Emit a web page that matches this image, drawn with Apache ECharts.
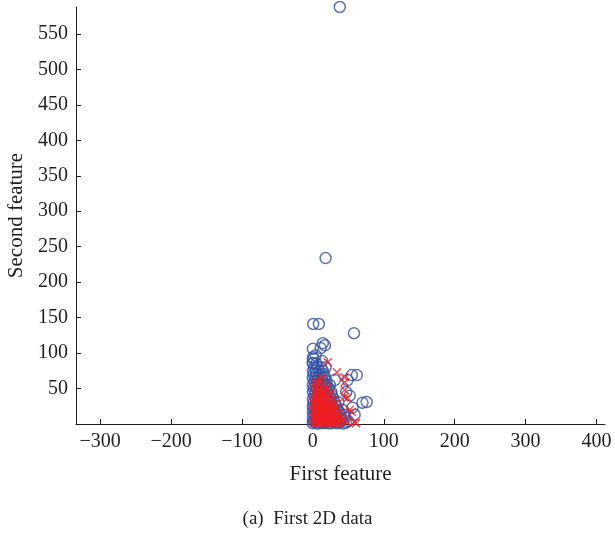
<!DOCTYPE html>
<html>
<head>
<meta charset="utf-8">
<script src="https://cdn.jsdelivr.net/npm/echarts@6/dist/echarts.min.js"></script>
<style>html,body{margin:0;padding:0;background:#fff}#c{width:615px;height:533px}</style>
</head>
<body>
<div id="c"></div>
<script>
// Class 1: blue circles
const blueData = [
  [38,588],[18,234],[0.5,141],[8.5,141],[58,128],[14,114],[17,111],[11,107],[0,106],[0,94],[13,89],[0,86],
  [55,69],[62,69],[49,62],[76,31],[70,30],[24,55],[31,62],[56,23],[59,13],[47,45],[52,40],[4,97],[1,92],
  [0,1],[3,2],[7,0.5],[10,1.5],[14,1],[18,2],[22,0.8],[26,1.2],[30,2],[34,1],[38,1.5],[43,0.5],[47,2],
  [1,4],[5,4.5],[9,3.5],[12,4],[16,5],[20,4],[24,3.8],[28,4.6],[33,4],[37,3.6],[41,5],[50,4],
  [0,8],[4,7.5],[8,8.5],[11,8],[15,7],[19,8.4],[23,8],[27,7.6],[31,8.8],[35,8],[40,7.4],[46,9],
  [2,12],[6,11.5],[10,12.6],[13,12],[17,11],[21,12.4],[25,12],[29,13],[34,11.6],[39,12.5],[44,13],
  [0,16],[4,16.5],[7,15.5],[11,16],[15,17],[19,15.8],[23,16.4],[28,16],[32,15.4],[37,17],
  [1,20],[5,20.6],[9,19.5],[13,20],[17,21],[21,19.6],[26,20.4],[30,21],[35,19.8],[41,20.5],
  [0,25],[3,24.4],[7,25.6],[11,25],[15,24],[19,25.5],[24,26],[28,24.6],[33,25.2],
  [1,30],[5,29.4],[9,30.6],[13,31],[17,29.6],[22,30.2],[26,31],[31,29.8],[36,30.5],
  [0,35],[4,35.6],[8,34.4],[12,35],[16,36],[20,34.6],[25,35.2],[29,36],
  [2,40],[6,39.4],[10,40.6],[14,40],[18,41],[23,39.6],[27,40.4],
  [0,45],[4,45.6],[8,44.4],[12,45],[16,46],[21,44.6],[26,45.4],
  [1,50],[5,50.6],[9,49.4],[13,50],[18,51],[22,49.6],
  [0,55],[4,55.6],[8,54.4],[12,55],[16,56],[20,54.6],
  [2,60],[6,60.6],[10,59.4],[14,60],[19,61],
  [0,65],[4,65.6],[8,64.4],[13,65],[17,66],
  [1,70],[5,70.6],[10,69.4],[15,70.5],
  [0,75],[4,75.6],[9,74.4],[14,75],
  [2,80],[7,80.6],[12,79.4],[18,80],
  [0,86],[5,85.4]
];
// Class 2: red crosses
const redData = [
  [21,87],[34,73],[45,66],[45,59],[13,65],[20,52],[3,58],[13,45],[45,48],[45,38],[49,37],[52,20],[55,17],[42,6],[48,3],[59,3],[61,1],
  [2,1],[6,1.5],[10,0.8],[14,1.2],[18,1.8],[22,1],[26,0.6],[30,1.4],[34,1],[38,1.6],
  [4,4],[8,4.4],[12,3.6],[16,4.2],[20,4.8],[24,3.8],[28,4.2],[32,4.6],[36,3.8],[41,4.4],
  [3,7],[7,7.4],[11,6.6],[15,7.2],[19,7.8],[23,6.8],[27,7.2],[31,7.6],[35,6.8],
  [2,10],[6,10.4],[10,9.6],[14,10.2],[18,10.8],[22,9.8],[26,10.2],[30,10.6],[34,9.8],[39,10.4],
  [4,13],[8,13.4],[12,12.6],[16,13.2],[20,13.8],[24,12.8],[28,13.2],[33,13.6],
  [3,16],[7,16.4],[11,15.6],[15,16.2],[19,16.8],[23,15.8],[27,16.2],[31,16.6],[37,15.8],
  [2,19],[6,19.4],[10,18.6],[14,19.2],[18,19.8],[22,18.8],[26,19.2],[30,19.6],
  [4,22],[8,22.4],[12,21.6],[16,22.2],[20,22.8],[24,21.8],[29,22.2],[34,22.6],
  [3,25],[7,25.4],[11,24.6],[15,25.2],[19,25.8],[23,24.8],[27,25.2],
  [2,28],[6,28.4],[10,27.6],[14,28.2],[18,28.8],[22,27.8],[26,28.2],[32,28.6],
  [4,31],[8,31.4],[12,30.6],[16,31.2],[20,31.8],[25,30.8],
  [3,34],[7,34.4],[11,33.6],[15,34.2],[19,34.8],[23,33.8],[28,34.2],
  [5,38],[9,38.4],[13,37.6],[17,38.2],[22,38.8],
  [4,42],[8,42.4],[12,41.6],[18,42.2],[25,42.8],
  [6,46],[10,46.4],[15,45.6],
  [5,50],[12,50.4],[20,49.6],
  [8,55],[16,55.4],
  [6,60],[11,61]
];
const xTicks = [-300,-200,-100,0,100,200,300,400];
const yTicks = [50,100,150,200,250,300,350,400,450,500,550];

const FONT = '"Liberation Serif", "DejaVu Serif", serif';
const chart = echarts.init(document.getElementById('c'));
chart.setOption({
  animation: false,
  backgroundColor: '#fff',
  title: {
    text: '(a)  First 2D data',
    left: 'center', top: 505,
    textStyle: {fontFamily: FONT, fontSize: 19, fontWeight: 'normal', color: '#231f20'}
  },
  grid: {left: 76, right: 10, top: 7, bottom: 109, outerBoundsMode: 'none', containLabel: false},
  xAxis: {
    type: 'value', min: -334, max: 412,
    name: 'First feature', nameLocation: 'middle', nameGap: 40,
    nameTextStyle: {fontFamily: FONT, fontSize: 21, color: '#231f20'},
    splitLine: {show: false},
    axisLine: {onZero: false, lineStyle: {color: '#231f20', width: 1}},
    axisTick: {inside: true, length: 5, customValues: xTicks, lineStyle: {color: '#231f20'}},
    axisLabel: {customValues: xTicks, fontFamily: FONT, fontSize: 20, color: '#231f20', margin: 8,
      formatter: v => String(v).replace('-', '\u2212')}
  },
  yAxis: {
    type: 'value', min: 0, max: 588,
    name: 'Second feature', nameLocation: 'middle', nameGap: 49,
    nameTextStyle: {fontFamily: FONT, fontSize: 21, color: '#231f20'},
    splitLine: {show: false},
    axisLine: {onZero: false, lineStyle: {color: '#231f20', width: 1}},
    axisTick: {inside: true, length: 5, customValues: yTicks, lineStyle: {color: '#231f20'}},
    axisLabel: {customValues: yTicks, fontFamily: FONT, fontSize: 20, color: '#231f20', margin: 8}
  },
  series: [
    {
      type: 'scatter', data: blueData, symbol: 'circle', symbolSize: 11, clip: false,
      itemStyle: {color: 'rgba(0,0,0,0)', borderColor: '#3553a6', borderWidth: 1.5}
    },
    {
      type: 'scatter', data: redData, symbol: 'path://M0,0L10,10M10,0L0,10', symbolSize: 8, clip: false,
      itemStyle: {color: 'rgba(0,0,0,0)', borderColor: '#ed2024', borderWidth: 1.5}
    }
  ]
});
</script>
</body>
</html>
